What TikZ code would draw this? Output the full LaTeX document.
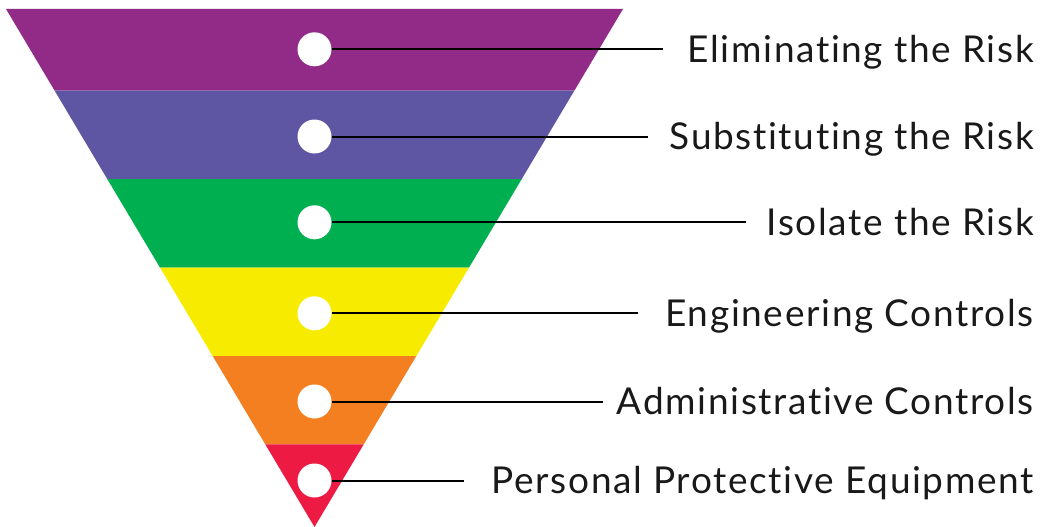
\documentclass[tikz,border=0pt]{standalone}
\usepackage{fontspec}
\setmainfont{Lato}[LetterSpace=4.5,Ligatures=NoCommon]
\definecolor{cpurple}{HTML}{922A87}
\definecolor{cviolet}{HTML}{5E56A3}
\definecolor{cgreen}{HTML}{00AF4F}
\definecolor{cyellow}{HTML}{F7EC00}
\definecolor{corange}{HTML}{F37F21}
\definecolor{cred}{HTML}{ED1A44}
\begin{document}
\begin{tikzpicture}[x=1pt,y=-1pt,
  dot/.style={circle,fill=white,draw=none,minimum size=34pt,inner sep=0pt},
  lbl/.style={anchor=base east,inner sep=0pt,font=\fontsize{37}{43}\selectfont,text=black!90},
  leader/.style={draw=black,line width=2pt}]
\useasboundingbox (0,0) rectangle (1042,527);
% triangle bands: left edge x(y)=6+(y-9)*0.59556, right edge x(y)=623-(y-9)*0.59556
\fill[cpurple] (6,9) -- (623,9) -- ({623-(90.7-9)*0.59556},90.7) -- ({6+(90.7-9)*0.59556},90.7) -- cycle;
\fill[cviolet] ({6+(90.7-9)*0.59556},90.7) -- ({623-(90.7-9)*0.59556},90.7) -- ({623-(179-9)*0.59556},179) -- ({6+(179-9)*0.59556},179) -- cycle;
\fill[cgreen] ({6+(179-9)*0.59556},179) -- ({623-(179-9)*0.59556},179) -- ({623-(267.7-9)*0.59556},267.7) -- ({6+(267.7-9)*0.59556},267.7) -- cycle;
\fill[cyellow] ({6+(267.7-9)*0.59556},267.7) -- ({623-(267.7-9)*0.59556},267.7) -- ({623-(356-9)*0.59556},356) -- ({6+(356-9)*0.59556},356) -- cycle;
\fill[corange] ({6+(356-9)*0.59556},356) -- ({623-(356-9)*0.59556},356) -- ({623-(444.3-9)*0.59556},444.3) -- ({6+(444.3-9)*0.59556},444.3) -- cycle;
\fill[cred] ({6+(444.3-9)*0.59556},444.3) -- ({623-(444.3-9)*0.59556},444.3) -- (314.5,527) -- cycle;
% dots
\node[dot] (c1) at (314.5,49.3) {};
\node[dot] (c2) at (314.5,136.5) {};
\node[dot] (c3) at (314.5,222.3) {};
\node[dot] (c4) at (314.5,313.3) {};
\node[dot] (c5) at (314.5,401.5) {};
\node[dot] (c6) at (314.5,480.5) {};
% line ends
\coordinate (e1) at (663,49.3);
\coordinate (e2) at (648,136.5);
\coordinate (e3) at (746,222.3);
\coordinate (e4) at (638,313.3);
\coordinate (e5) at (603,401.5);
\coordinate (e6) at (464,480.5);
% labels
\node[lbl] (t1) at (1034,62.5) {Eliminating the Risk};
\node[lbl] (t2) at (1034,149.7) {Substituting the Risk};
\node[lbl] (t3) at (1034,235.5) {Isolate the Risk};
\node[lbl] (t4) at (1034,326.5) {Engineering Controls};
\node[lbl] (t5) at (1034,414.7) {Administrative Controls};
\node[lbl] (t6) at (1034,493.7) {Personal Protective Equipment};
% leaders
\foreach \i in {1,...,6} { \draw[leader] (c\i.east) -- (e\i); }
\end{tikzpicture}
\end{document}
